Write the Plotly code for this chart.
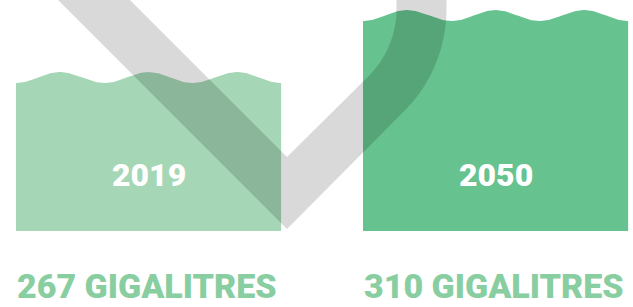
import numpy as np
import plotly.graph_objects as go

# ---- data ----
years = ["2019", "2050"]
volumes = [267, 310]  # gigalitres
value_labels = ["267 GIGALITRES", "310 GIGALITRES"]
bar_colors = ["#a5d6b5", "#66c28e"]
label_color = "#88cea1"

# ---- layout constants ----
W, H = 633, 307
bar_width = 0.764
wave_amp = 7.6       # trough-to-crest, data units
n_waves = 3
x_range = [-0.428, 1.396]
y_domain = [0.2476, 1.0]
y_range = [164.4, 324.6]

fig = go.Figure()

for i, (v, c) in enumerate(zip(volumes, bar_colors)):
    xl, xr = i - bar_width / 2, i + bar_width / 2
    xs = np.linspace(xl, xr, 240)
    phase = (xs - xl) / (xr - xl) * n_waves * 2 * np.pi
    ys = v + wave_amp * (1 - np.cos(phase)) / 2
    px = [xl] + list(xs) + [xr, xl]
    py = [0] + list(ys) + [0, 0]
    fig.add_trace(go.Scatter(
        x=px, y=py, fill="toself", fillcolor=c, mode="lines",
        line=dict(width=0, color=c), hoverinfo="skip", showlegend=False))

# ---- decorative check mark (pixel geometry -> paper coords) ----
def to_paper(pts):
    return [(x / W, 1 - y / H) for x, y in pts]

R = 120.0
half_t = 25.0
cx, cy = 421.5 - R, 58.5 - (np.sqrt(2) - 1) * R
top = -12
pts = []
pts.append((58 + top, top))          # left arm outer edge top
pts.append((287, 229))               # outer vertex
th = np.linspace(np.pi / 4, 0, 30)
Ro = R + half_t
pts += [(cx + Ro * np.cos(t), cy + Ro * np.sin(t)) for t in th]
pts.append((cx + Ro, top))
pts.append((cx + R - half_t, top))
Ri = R - half_t
pts += [(cx + Ri * np.cos(t), cy + Ri * np.sin(t)) for t in th[::-1]]
pts.append((287, 157))               # inner vertex
pts.append((130 + top, top))
pp = to_paper(pts)
path = "M " + " L ".join(f"{x:.5f},{y:.5f}" for x, y in pp) + " Z"
fig.add_shape(type="path", path=path, xref="paper", yref="paper",
              fillcolor="rgba(0,0,0,0.15)", line=dict(width=0), layer="above")

# ---- text ----
for i, (yr, lab) in enumerate(zip(years, value_labels)):
    fig.add_annotation(x=i, y=1 - 175 / H, xref="x", yref="paper", text=yr,
                       showarrow=False, xanchor="center", yanchor="middle",
                       font=dict(family="Roboto", size=32, color="white", weight=900))
    fig.add_annotation(x=i - bar_width / 2, y=0, xref="x", yref="paper",
                       text=lab, showarrow=False, xanchor="left", yanchor="bottom",
                       borderpad=0,
                       font=dict(family="Roboto", size=34, color=label_color, weight=900))

fig.update_xaxes(range=x_range, visible=False, fixedrange=True)
fig.update_yaxes(range=y_range, domain=y_domain, visible=False, fixedrange=True)
fig.update_layout(width=W, height=H, margin=dict(l=0, r=0, t=0, b=0),
                  plot_bgcolor="white", paper_bgcolor="white", showlegend=False)

fig.write_html("out.html", config={"displayModeBar": False},
               post_script="document.body.style.margin='0';document.body.style.overflow='hidden';")
